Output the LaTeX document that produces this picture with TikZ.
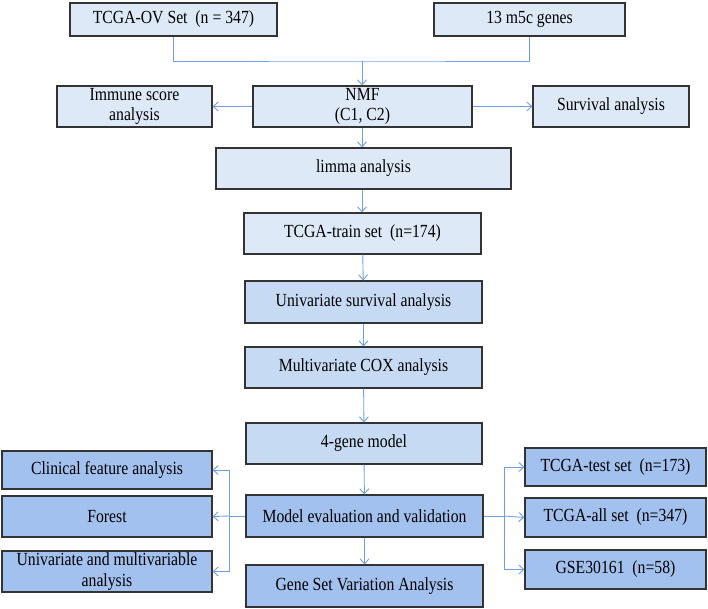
\documentclass[tikz,border=0pt]{standalone}
\usepackage{fontspec}
\setmainfont{Liberation Serif}[FakeStretch=0.85]
\usetikzlibrary{arrows.meta}
\definecolor{lightfill}{HTML}{DEE9F8}
\definecolor{midfill}{HTML}{C6DAF3}
\definecolor{darkfill}{HTML}{A3C1EE}
\definecolor{linkblue}{HTML}{6F9FE6}
\tikzset{
    box/.style={draw=black!80, line width=1.1pt, align=center, inner sep=0pt,
        font=\fontsize{18.5}{20.5}\selectfont},
    link/.style={draw=linkblue, line width=0.9pt},
    arrow/.style={link, -{Straight Barb[length=5pt,width=9pt]}},
}
\begin{document}
\begin{tikzpicture}
[
    x=1pt, y=-1pt,
]
\useasboundingbox (0,0) rectangle (708,609);
% input data
\node[box, fill=lightfill, minimum width=207pt, minimum height=33pt] (ov) at (173.5,19.5) {TCGA-OV Set\ \ (n = 347)};
\node[box, fill=lightfill, minimum width=191pt, minimum height=33pt] (genes) at (529.5,19.5) {13 m5c genes};
% clustering
\node[box, fill=lightfill, minimum width=219pt, minimum height=41pt] (nmf) at (362.5,106.5) {NMF\\(C1, C2)};
\node[box, fill=lightfill, minimum width=155pt, minimum height=41pt] (immune) at (134.5,106.5) {Immune score\\analysis};
\node[box, fill=lightfill, minimum width=156pt, minimum height=41pt] (surv) at (611,106.5) {Survival analysis};
\node[box, fill=lightfill, minimum width=295pt, minimum height=41pt] (limma) at (363.5,168.5) {limma analysis};
\node[box, fill=lightfill, minimum width=237pt, minimum height=41pt] (train) at (362.5,233.5) {TCGA-train set\ \ (n=174)};
% model building
\node[box, fill=midfill, minimum width=237pt, minimum height=42pt] (uni) at (363.5,302) {Univariate survival analysis};
\node[box, fill=midfill, minimum width=237pt, minimum height=41pt] (multi) at (363.5,367.5) {Multivariate COX analysis};
\node[box, fill=midfill, minimum width=236pt, minimum height=41pt] (model) at (364,443.5) {4-gene model};
% evaluation
\node[box, fill=darkfill, minimum width=237pt, minimum height=42pt] (eval) at (364.5,516) {Model evaluation and validation};
\node[box, fill=darkfill, minimum width=237pt, minimum height=42pt] (gsva) at (364.5,586) {Gene Set Variation Analysis};
\node[box, fill=darkfill, minimum width=210pt, minimum height=38pt] (clin) at (107,470) {Clinical feature analysis};
\node[box, fill=darkfill, minimum width=210pt, minimum height=41pt] (forest) at (107,516.5) {Forest};
\node[box, fill=darkfill, minimum width=210pt, minimum height=41pt] (unimulti) at (107,571.5) {Univariate and multivariable\\analysis};
\node[box, fill=darkfill, minimum width=181pt, minimum height=38pt] (test) at (615.5,467) {TCGA-test set\ \ (n=173)};
\node[box, fill=darkfill, minimum width=181pt, minimum height=39pt] (all) at (615.5,517.5) {TCGA-all set\ \ (n=347)};
\node[box, fill=darkfill, minimum width=181pt, minimum height=39pt] (gse) at (615.5,569.5) {GSE30161\ \ (n=58)};

\coordinate (join) at (362,61);
\coordinate (lbar) at (229,516);
\coordinate (rbar) at (504,516);

\draw[link] (ov.south) |- (join) -| (genes.south);
\draw[arrow] (join) -- (nmf.north -| join);
\draw[arrow] (nmf.west) -- (immune.east);
\draw[arrow] (nmf.east) -- (surv.west);
\draw[arrow] (nmf.south -| join) -- (limma.north -| join);
\draw[arrow] (limma.south -| join) -- (train.north -| join);
\draw[arrow] (train) -- (uni);
\draw[arrow] (uni) -- (multi);
\draw[arrow] (multi) -- (model);
\draw[arrow] (model) -- (eval);
\draw[arrow] (eval) -- (gsva);
% left branch
\draw[link] (eval.west) -- (lbar);
\draw[arrow] (lbar |- clin.east) -- (clin.east);
\draw[arrow] (lbar) -- (forest.east);
\draw[arrow] (lbar |- unimulti.east) -- (unimulti.east);
\draw[link] (lbar |- clin.east) -- (lbar |- unimulti.east);
% right branch
\draw[link] (eval.east) -- (rbar);
\draw[arrow] (rbar |- test.west) -- (test.west);
\draw[arrow] (rbar) -- (all.west);
\draw[arrow] (rbar |- gse.west) -- (gse.west);
\draw[link] (rbar |- test.west) -- (rbar |- gse.west);
\end{tikzpicture}
\end{document}
